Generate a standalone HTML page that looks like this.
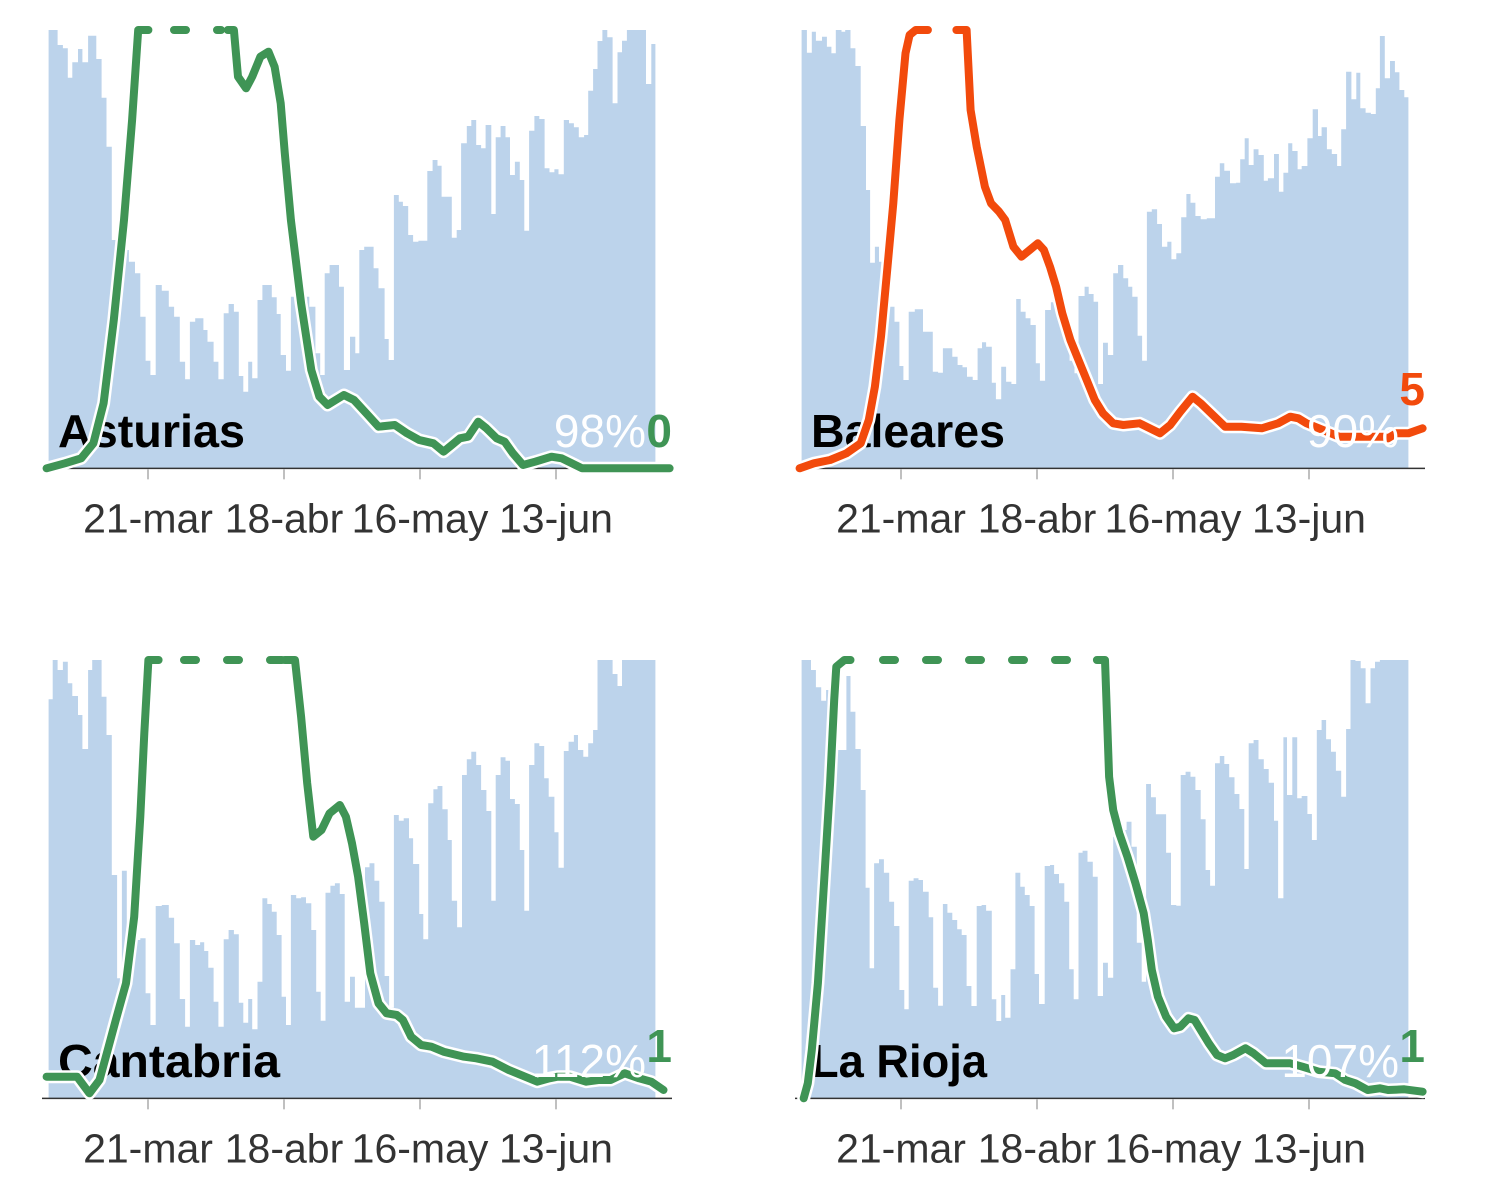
<!DOCTYPE html>
<html><head><meta charset="utf-8">
<style>
html,body{margin:0;padding:0;background:#fff;}
svg{display:block;}
text{font-family:"Liberation Sans",sans-serif;}
</style></head>
<body>
<svg id="s" width="1500" height="1200" viewBox="0 0 1500 1200" xmlns="http://www.w3.org/2000/svg"></svg>
<script>
var FX=0.4072, FY=1/3;
var panels=[
 {ox:40,oy:20,name:"Asturias",tl:187,pct:"98%",num:"0",col:"#3f9455",
  bars:[[20,30],[42,75],[55,85],[67,173],[78,127],[92,87],[103,127],[117,47],[137,117],[150,233],[162,380],[175,660],[190,690],[217,725],[232,760],[245,890],[258,1022],[270,1065],[283,795],[298,812],[315,860],[328,890],[342,1025],[355,1078],[367,905],[380,895],[400,930],[410,965],[425,1025],[437,1078],[450,880],[462,852],[475,875],[487,1068],[498,1115],[510,1025],[520,1075],[533,840],[545,795],[568,832],[580,882],[590,1005],[603,1052],[615,830],[640,830],[660,860],[675,1000],[687,1065],[698,760],[710,735],[733,800],[745,1050],[760,950],[773,1000],[783,690],[795,680],[818,745],[830,805],[845,957],[855,1020],[868,525],[880,545],[890,558],[903,645],[915,665],[928,662],[950,453],[963,420],[975,437],[985,530],[1010,653],[1022,630],[1033,370],[1047,318],[1058,300],[1070,375],[1082,385],[1093,315],[1107,582],[1118,352],[1130,318],[1142,352],[1153,465],[1165,425],[1177,480],[1188,632],[1200,332],[1213,288],[1225,297],[1238,445],[1250,457],[1262,448],[1272,463],[1285,300],[1298,310],[1310,322],[1322,352],[1335,345],[1345,212],[1357,147],[1368,63],[1380,30],[1392,52],[1405,250],[1417,97],[1428,62],[1440,30],[1487,192],[1500,72],[1510,0]],
  lines:[[[15,1345],[60,1330],[100,1315],[130,1270],[155,1150],[180,900],[205,600],[225,300],[240,30],[265,30]],
         [[460,30],[475,30],[485,170],[505,205],[520,170],[540,110],[560,95],[575,140],[590,250],[600,400],[615,600],[640,850],[665,1050],[685,1130],[705,1155],[725,1140],[745,1125],[770,1140],[800,1180],[830,1220],[870,1215],[900,1240],[930,1260],[965,1270],[990,1295],[1010,1275],[1030,1255],[1050,1250],[1075,1205],[1095,1225],[1120,1255],[1140,1265],[1160,1300],[1185,1335],[1215,1325],[1255,1310],[1280,1315],[1330,1345],[1545,1345]]],
  dash:[148,221]},
 {ox:793,oy:20,name:"Baleares",tl:194,pct:"90%",num:"5",col:"#f24a0c",
  bars:[[20,30],[33,98],[45,35],[55,62],[70,50],[82,80],[93,100],[104,30],[118,35],[127,30],[140,85],[152,138],[165,318],[178,510],[188,728],[200,680],[210,725],[220,860],[248,905],[260,1038],[270,1080],[283,875],[298,868],[318,935],[342,1055],[355,1058],[367,985],[390,1010],[403,1035],[415,1042],[426,1070],[440,1080],[452,985],[463,967],[473,980],[487,1088],[497,1138],[510,1040],[522,1085],[535,1092],[547,837],[558,875],[570,895],[582,915],[595,1030],[605,1082],[618,870],[632,847],[645,870],[660,940],[678,1022],[690,1060],[700,828],[715,800],[725,822],[737,845],[748,1092],[760,968],[772,1005],[785,760],[797,735],[810,775],[822,800],[832,830],[845,947],[856,1022],[868,575],[880,568],[893,612],[905,680],[918,665],[928,718],[940,700],[952,592],[965,522],[975,548],[987,588],[1000,598],[1015,595],[1035,470],[1047,430],[1058,452],[1072,490],[1087,488],[1097,418],[1108,355],[1118,435],[1130,388],[1142,405],[1155,482],[1165,475],[1180,402],[1192,515],[1203,458],[1215,370],[1225,393],[1238,448],[1248,438],[1262,355],[1275,268],[1288,348],[1297,322],[1310,388],[1322,402],[1335,438],[1345,328],[1357,155],[1370,238],[1382,158],[1392,265],[1405,278],[1418,282],[1430,205],[1440,48],[1452,175],[1465,123],[1477,157],[1488,210],[1500,232],[1510,0]],
  lines:[[[15,1345],[50,1330],[90,1320],[130,1300],[165,1270],[185,1200],[200,1100],[215,950],[230,750],[245,550],[260,300],[275,100],[285,45],[300,30],[330,30]],
         [[400,30],[425,30],[435,270],[450,380],[470,500],[485,550],[505,575],[520,600],[540,680],[560,710],[580,690],[600,670],[615,690],[630,740],[645,800],[660,880],[680,960],[700,1020],[720,1080],[740,1140],[760,1180],[785,1210],[810,1215],[850,1210],[875,1225],[900,1240],[925,1215],[950,1175],[980,1130],[1000,1150],[1030,1185],[1060,1220],[1100,1220],[1150,1225],[1190,1210],[1220,1190],[1240,1195],[1260,1210],[1300,1230],[1340,1250],[1380,1250],[1420,1250],[1450,1250],[1460,1255],[1480,1240],[1510,1240],[1545,1225]]],
  dash:null},
 {ox:40,oy:650,name:"Cantabria",tl:222,pct:"112%",num:"1",col:"#3f9455",
  bars:[[20,148],[30,30],[42,60],[55,35],[67,100],[78,138],[92,195],[103,297],[117,60],[127,30],[150,140],[162,255],[175,675],[188,985],[200,662],[212,870],[245,865],[258,1030],[270,1125],[283,768],[298,765],[315,803],[328,880],[342,1047],[355,1130],[367,870],[380,885],[392,877],[402,903],[412,953],[425,1055],[437,1130],[450,868],[462,840],[475,853],[487,1058],[498,1118],[510,1047],[520,1138],[533,995],[545,745],[557,762],[568,785],[580,855],[592,1040],[603,1125],[615,735],[628,745],[640,742],[652,760],[665,840],[677,1025],[688,1112],[700,728],[712,707],[723,700],[735,732],[747,1055],[760,980],[772,1073],[785,1073],[797,652],[808,640],[820,692],[832,755],[845,978],[856,1073],[868,495],[880,512],[892,505],[905,565],[915,642],[930,792],[940,868],[952,460],[965,418],[975,408],[987,478],[1000,570],[1010,752],[1023,832],[1035,375],[1047,328],[1058,305],[1070,345],[1082,420],[1095,483],[1107,752],[1118,375],[1130,322],[1142,332],[1153,447],[1165,462],[1177,600],[1188,782],[1200,345],[1213,280],[1225,288],[1237,385],[1248,440],[1262,547],[1272,653],[1285,303],[1297,275],[1310,255],[1320,300],[1333,320],[1345,280],[1357,240],[1368,30],[1405,72],[1417,108],[1428,30],[1510,0]],
  lines:[[[15,1280],[90,1280],[120,1330],[145,1290],[165,1200],[185,1110],[210,1000],[230,800],[245,500],[255,250],[265,30],[290,30]],
         [[600,30],[625,30],[640,200],[655,400],[670,560],[690,540],[710,490],[735,465],[750,500],[765,580],[780,680],[795,820],[810,970],[830,1060],[850,1090],[875,1095],[890,1110],[910,1160],[935,1185],[960,1190],[990,1205],[1040,1220],[1070,1225],[1110,1235],[1150,1260],[1190,1280],[1220,1295],[1250,1285],[1270,1280],[1300,1280],[1340,1295],[1370,1290],[1400,1290],[1435,1270],[1470,1285],[1500,1295],[1530,1320]]],
  dash:[158,287]},
 {ox:793,oy:650,name:"La Rioja",tl:176,pct:"107%",num:"1",col:"#3f9455",
  bars:[[20,30],[43,60],[55,112],[68,152],[80,120],[90,300],[130,78],[140,185],[152,297],[165,420],[177,713],[187,955],[198,640],[210,628],[222,668],[235,755],[247,828],[260,1020],[272,1078],[283,692],[295,685],[307,690],[318,725],[332,802],[343,1013],[355,1067],[367,762],[378,788],[390,810],[402,838],[413,855],[425,1008],[437,1068],[450,768],[462,765],[473,782],[487,1048],[498,1113],[510,1035],[520,1103],[533,958],[545,668],[557,710],[568,735],[580,768],[592,972],[603,1062],[617,648],[630,645],[640,672],[652,700],[665,755],[677,958],[688,1048],[700,608],[710,602],[722,635],[735,680],[747,1038],[760,938],[772,983],[785,560],[800,540],[818,515],[830,590],[843,878],[855,995],[866,402],[878,442],[890,493],[905,493],[915,608],[927,765],[940,767],[951,375],[963,365],[975,380],[987,420],[1000,508],[1012,660],[1023,707],[1035,340],[1047,318],[1058,342],[1070,382],[1083,432],[1095,477],[1107,657],[1118,280],[1130,270],[1142,328],[1155,357],[1167,398],[1180,512],[1190,745],[1203,262],[1212,435],[1225,262],[1237,445],[1248,438],[1262,492],[1273,570],[1285,240],[1297,210],[1308,268],[1320,305],[1332,362],[1345,440],[1357,237],[1368,30],[1380,33],[1393,55],[1405,160],[1417,55],[1428,35],[1440,30],[1510,0]],
  lines:[[[25,1345],[35,1300],[45,1200],[60,1000],[75,700],[90,400],[100,150],[105,50],[125,30],[140,30]],
         [[745,30],[765,30],[770,200],[775,380],[785,480],[800,550],[820,620],[840,700],[860,790],[870,870],[880,960],[895,1040],[915,1100],[935,1135],[950,1130],[970,1105],[985,1110],[1000,1140],[1020,1180],[1040,1215],[1060,1225],[1080,1215],[1110,1195],[1130,1210],[1160,1240],[1200,1240],[1220,1240],[1250,1250],[1290,1265],[1330,1270],[1355,1290],[1380,1300],[1410,1320],[1440,1315],[1460,1320],[1500,1318],[1545,1325]]],
  dash:[857,1097]}
];
var h='';
panels.forEach(function(p){
  var X=function(z){return (p.ox+0.5+z*FX).toFixed(1);}, Y=function(z){return (p.oy+z*FY).toFixed(1);};
  var base=p.oy+1345/3;
  var d='M'+X(p.bars[0][0])+' '+base.toFixed(1);
  for(var i=0;i<p.bars.length-1;i++){
    d+=' L'+X(p.bars[i][0])+' '+Y(p.bars[i][1])+' L'+X(p.bars[i+1][0])+' '+Y(p.bars[i][1]);
  }
  d+=' L'+X(p.bars[p.bars.length-1][0])+' '+base.toFixed(1)+' Z';
  h+='<path d="'+d+'" fill="#bcd3eb"/>';
  var lx=p.ox+18, ly=p.oy+427;
  h+='<text x="'+lx+'" y="'+ly+'" font-size="46" font-weight="bold" fill="#000" textLength="'+p.tl+'" lengthAdjust="spacingAndGlyphs">'+p.name+'</text>';
  var ax0=p.ox+2, ax1=p.ox+632;
  h+='<line x1="'+ax0+'" y1="'+base+'" x2="'+ax1+'" y2="'+base+'" stroke="#333" stroke-width="1.5"/>';
  var labs=['21-mar','18-abr','16-may','13-jun'];
  for(var k=0;k<4;k++){
    var tx=p.ox+108+136*k;
    h+='<line x1="'+tx+'" y1="'+(base+1)+'" x2="'+tx+'" y2="'+(base+11)+'" stroke="#aaa" stroke-width="1.5"/>';
    h+='<text x="'+tx+'" y="'+(base+64)+'" font-size="41" fill="#333" text-anchor="middle">'+labs[k]+'</text>';
  }
  p.lines.forEach(function(L){
    var s=L.map(function(q){return X(q[0])+','+Y(q[1]);}).join(' ');
    h+='<polyline points="'+s+'" fill="none" stroke="#fff" stroke-width="13" stroke-linejoin="round" stroke-linecap="round"/>';
    h+='<polyline points="'+s+'" fill="none" stroke="'+p.col+'" stroke-width="8" stroke-linejoin="round" stroke-linecap="round"/>';
  });
  if(p.dash){
    var yy=p.oy+10;
    h+='<line x1="'+p.dash[0]+'" y1="'+yy+'" x2="'+p.dash[1]+'" y2="'+yy+'" stroke="'+p.col+'" stroke-width="8" stroke-linecap="round" stroke-dasharray="12 31" stroke-dashoffset="-26"/>';
  }
  var nx=p.ox+632;
  var ny = p.name=="Baleares" ? p.oy+385 : (p.name=="Asturias"? p.oy+427 : p.oy+412);
  h+='<text x="'+(nx-26)+'" y="'+(p.oy+427)+'" font-size="46" fill="#fff" text-anchor="end">'+p.pct+'</text>';
  h+='<text x="'+nx+'" y="'+ny+'" font-size="46" fill="'+p.col+'" text-anchor="end" font-weight="bold">'+p.num+'</text>';
});
document.getElementById('s').innerHTML=h;
</script>
</body></html>
